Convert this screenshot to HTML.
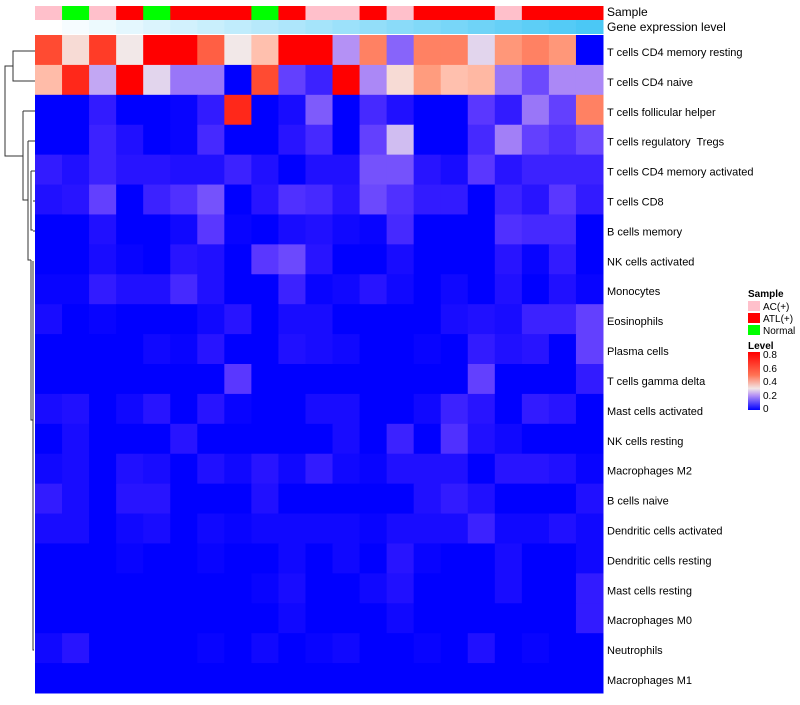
<!DOCTYPE html>
<html><head><meta charset="utf-8"><style>
body{margin:0;background:#fff;font-family:"Liberation Sans",sans-serif;}
svg text{font-family:"Liberation Sans",sans-serif;}
#rowlabels text{white-space:pre;}
</style></head><body>
<svg id="chart" width="800" height="700" xmlns="http://www.w3.org/2000/svg">
<g id="dendro" stroke="#333" stroke-width="1" fill="none">
<path d="M35,51H13V81H35M13,66H5V156H23M23,111H35M23,111V200H28M28,141H35M28,141V260H31M31,171H35M31,171V230H33M33,201H35M31,260V420H33M33,231H35M33,261V650H34"/>
</g>
<g id="cells"></g>
<g id="annot"></g>
<g id="rowlabels"></g>
<text x="607" y="16" font-size="12">Sample</text>
<text x="607" y="31" font-size="12">Gene expression level</text>
<g font-size="10">
<text x="748" y="297" font-weight="bold">Sample</text>
<rect x="748" y="301" width="12" height="10" fill="#FFC0CB"/>
<text x="763" y="310">AC(+)</text>
<rect x="748" y="313" width="12" height="10" fill="#FF0000"/>
<text x="763" y="322">ATL(+)</text>
<rect x="748" y="325" width="12" height="10" fill="#00FF00"/>
<text x="763" y="334">Normal</text>
<text x="748" y="349" font-weight="bold">Level</text>
<defs><linearGradient id="lg" x1="0" y1="1" x2="0" y2="0">
<stop offset="0" stop-color="#0000FF"/><stop offset="0.25" stop-color="#B491F5"/><stop offset="0.37" stop-color="#F2E6E6"/><stop offset="0.6" stop-color="#FF7355"/><stop offset="1" stop-color="#FF0000"/></linearGradient></defs>
<rect x="748" y="352" width="12" height="58" fill="url(#lg)"/>
<text x="763" y="358">0.8</text><text x="763" y="372">0.6</text><text x="763" y="385">0.4</text><text x="763" y="399">0.2</text><text x="763" y="412">0</text>
</g>
</svg>
<script>
const rowNames=["T cells CD4 memory resting","T cells CD4 naive","T cells follicular helper","T cells regulatory  Tregs","T cells CD4 memory activated","T cells CD8","B cells memory","NK cells activated","Monocytes","Eosinophils","Plasma cells","T cells gamma delta","Mast cells activated","NK cells resting","Macrophages M2","B cells naive","Dendritic cells activated","Dendritic cells resting","Mast cells resting","Macrophages M0","Neutrophils","Macrophages M1"];
const sampleGroups=["AC","Normal","AC","ATL","Normal","ATL","ATL","ATL","Normal","ATL","AC","AC","ATL","AC","ATL","ATL","ATL","AC","ATL","ATL","ATL"];
const geneLevel=[0,0.05,0.1,0.15,0.2,0.25,0.3,0.35,0.4,0.45,0.5,0.55,0.6,0.65,0.7,0.75,0.8,0.85,0.9,0.95,1];
const r1=[0.65,0.32,0.68,0.3,0.8,0.8,0.6,0.3,0.37,0.8,0.8,0.2,0.52,0.15,0.52,0.52,0.27,0.47,0.52,0.47,0];
const r2=[0.38,0.72,0.22,0.8,0.27,0.17,0.17,0,0.65,0.11,0.07,0.8,0.19,0.32,0.46,0.37,0.39,0.17,0.12,0.19,0.19];
const r3=[0,0,0.06,0,0,0.01,0.06,0.72,0,0.03,0.14,0,0.08,0.04,0,0,0.1,0.06,0.17,0.11,0.52];
const r4=[0,0,0.07,0.04,0,0.01,0.08,0,0,0.05,0.08,0,0.11,0.24,0,0,0.08,0.18,0.11,0.09,0.12];
const r5=[0.06,0.04,0.07,0.05,0.05,0.04,0.04,0.07,0.04,0,0.04,0.04,0.13,0.13,0.05,0.03,0.1,0.05,0.07,0.07,0.07];
const r6=[0.04,0.05,0.11,0,0.07,0.09,0.13,0,0.05,0.09,0.08,0.05,0.12,0.09,0.06,0.06,0,0.07,0.05,0.1,0.06];
const r7=[0,0,0.04,0,0,0.02,0.1,0.01,0,0.03,0.04,0.02,0.01,0.08,0,0,0,0.09,0.08,0.08,0];
const r8=[0,0,0.03,0.01,0,0.05,0.04,0,0.1,0.12,0.05,0,0,0.03,0,0,0,0.05,0.01,0.06,0];
const r9=[0.01,0.01,0.06,0.04,0.04,0.08,0.04,0,0,0.07,0.01,0.02,0.05,0.02,0,0.02,0,0.04,0,0.04,0.01];
const r10=[0.03,0,0.01,0,0,0,0.02,0.05,0,0.03,0.03,0,0,0,0,0.03,0.04,0.03,0.07,0.07,0.11];
const r11=[0,0,0,0,0.02,0.01,0.05,0,0,0.04,0.03,0.02,0,0,0.01,0,0.06,0.04,0.05,0,0.11];
const r12=[0,0,0,0,0,0,0,0.1,0,0,0,0,0,0,0,0,0.11,0,0,0,0.06];
const r13=[0.03,0.04,0,0.02,0.05,0,0.05,0.01,0,0,0.03,0.03,0,0,0.02,0.07,0.05,0,0.06,0.05,0];
const r14=[0,0.03,0,0,0,0.05,0,0,0,0,0,0.03,0,0.07,0,0.09,0.04,0.02,0,0,0];
const r15=[0.02,0.03,0,0.04,0.03,0,0.04,0.02,0.05,0.02,0.06,0.02,0.01,0.04,0.04,0.04,0,0.05,0.05,0.04,0.01];
const r16=[0.06,0.03,0,0.05,0.05,0,0,0,0.04,0,0,0,0,0,0.04,0.06,0.04,0,0,0,0.04];
const r17=[0.03,0.03,0,0.02,0.03,0,0.02,0.01,0.02,0.02,0.02,0.02,0.01,0.03,0.03,0.03,0.07,0.02,0.02,0.04,0.02];
const r18=[0,0,0,0.01,0,0,0.01,0,0,0.02,0,0.02,0,0.05,0.01,0,0,0.03,0,0,0.02];
const r19=[0,0,0,0,0,0,0,0,0.01,0.03,0,0,0.02,0.04,0,0,0,0.03,0,0,0.06];
const r20=[0,0,0,0,0,0,0,0,0,0.02,0,0,0,0.02,0,0,0,0,0,0,0.06];
const r21=[0.02,0.05,0,0,0,0,0.01,0,0.02,0,0.01,0.02,0,0,0.01,0,0.04,0,0.01,0,0];
const r22=[0,0,0,0,0,0,0,0,0,0,0,0,0,0,0,0,0,0,0,0,0];
const values=[r1,r2,r3,r4,r5,r6,r7,r8,r9,r10,r11,r12,r13,r14,r15,r16,r17,r18,r19,r20,r21,r22];

const X0=35,X1=603,Y0=35,Y1=693;
const nC=sampleGroups.length,nR=rowNames.length;
const cw=(X1-X0)/nC,rh=(Y1-Y0)/nR;
const xs=i=>X0+i*cw, ys=j=>Y0+j*rh;
const stops=[[0,0,0,255],[0.05,40,20,255],[0.1,90,55,255],[0.15,135,100,250],[0.2,180,145,245],[0.25,215,200,240],[0.3,242,232,232],[0.35,255,200,185],[0.45,255,160,130],[0.55,255,115,85],[0.65,255,75,50],[0.75,255,25,15],[0.8,255,0,0]];
function col(v){v=Math.max(0,Math.min(0.8,v));for(let k=1;k<stops.length;k++){if(v<=stops[k][0]){const a=stops[k-1],b=stops[k],t=(v-a[0])/(b[0]-a[0]);return `rgb(${[1,2,3].map(i=>Math.round(a[i]+(b[i]-a[i])*t)).join(',')})`;}}return 'rgb(255,0,0)';}
const NS="http://www.w3.org/2000/svg";
const cells=document.getElementById('cells');
values.forEach((row,j)=>row.forEach((v,i)=>{
 const r=document.createElementNS(NS,'rect');
 r.setAttribute('x',xs(i));r.setAttribute('y',ys(j));r.setAttribute('width',cw+0.5);r.setAttribute('height',rh+0.5);r.setAttribute('fill',col(v));
 
 
 cells.appendChild(r);
}));
const gc={AC:"#FFC0CB",ATL:"#FF0000",Normal:"#00FF00"};
const annot=document.getElementById('annot');
sampleGroups.forEach((g,i)=>{
 const r=document.createElementNS(NS,'rect');
 r.setAttribute('x',xs(i));r.setAttribute('y',6);r.setAttribute('width',cw+0.5);r.setAttribute('height',14);r.setAttribute('fill',gc[g]);
 
 
 annot.appendChild(r);
});
geneLevel.forEach((v,i)=>{
 const r=document.createElementNS(NS,'rect');
 const R=Math.round(255+(75-255)*v),G=Math.round(255+(200-255)*v),B=Math.round(255+(245-255)*v);
 r.setAttribute('x',xs(i));r.setAttribute('y',20);r.setAttribute('width',cw+0.5);r.setAttribute('height',14);r.setAttribute('fill',`rgb(${R},${G},${B})`);
 
 
 annot.appendChild(r);
});
const rl=document.getElementById('rowlabels');
rowNames.forEach((n,j)=>{
 const t=document.createElementNS(NS,'text');
 t.setAttribute('x',607);t.setAttribute('y',ys(j)+rh/2+6);t.setAttribute('font-size','11');t.textContent=n;
 
 
 rl.appendChild(t);
});
</script>
</body></html>
